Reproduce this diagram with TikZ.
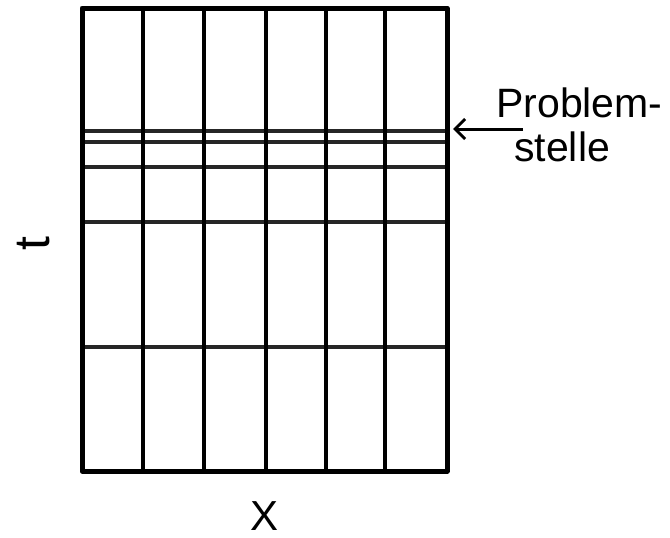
\documentclass[tikz,border=0pt]{standalone}
\usepackage{fontspec}
\setmainfont{Liberation Sans}
\usetikzlibrary{arrows.meta}
\tikzset{
  gdframe/.style={line width=5pt, draw=black, line join=round},
  gdcol/.style={line width=4.4pt, draw=black, line cap=butt},
  gdrow/.style={line width=3.8pt, draw=black!85, line cap=butt},
  gdarrow/.style={line width=3pt, draw=black, -{Straight Barb[length=10pt,width=20pt,line width=3pt]}},
  gdlabel/.style={inner sep=0pt, font=\fontsize{41}{46}\selectfont},
}

\begin{document}
\begin{tikzpicture}[x=1pt,y=-1pt]
\useasboundingbox (0,0) rectangle (670,538);
\draw[gdrow] (82,131) -- (447,131);
\draw[gdrow] (82,142) -- (447,142);
\draw[gdrow] (82,167) -- (447,167);
\draw[gdrow] (82,222) -- (447,222);
\draw[gdrow] (82,347) -- (447,347);
\draw[gdcol] (143,8) -- (143,471);
\draw[gdcol] (204,8) -- (204,471);
\draw[gdcol] (266,8) -- (266,471);
\draw[gdcol] (326,8) -- (326,471);
\draw[gdcol] (385,8) -- (385,471);
\draw[gdframe] (82,8) rectangle (447,471);
\node[gdlabel, anchor=base west] (prob) at (496,117) {Problem-};
\node[gdlabel, anchor=base west] (stel) at (514,161) {stelle};
\node[gdlabel, anchor=base, font=\fontsize{42}{46}\selectfont] (xlab) at (265,530) {X};
\node[gdlabel, rotate=90, font=\fontsize{50}{54}\selectfont] (tlab) at (34,244) {t};
\coordinate (tail) at (523,129);
\coordinate (spot) at (453,129);
\draw[gdarrow] (tail) -- (spot);
\end{tikzpicture}
\end{document}
